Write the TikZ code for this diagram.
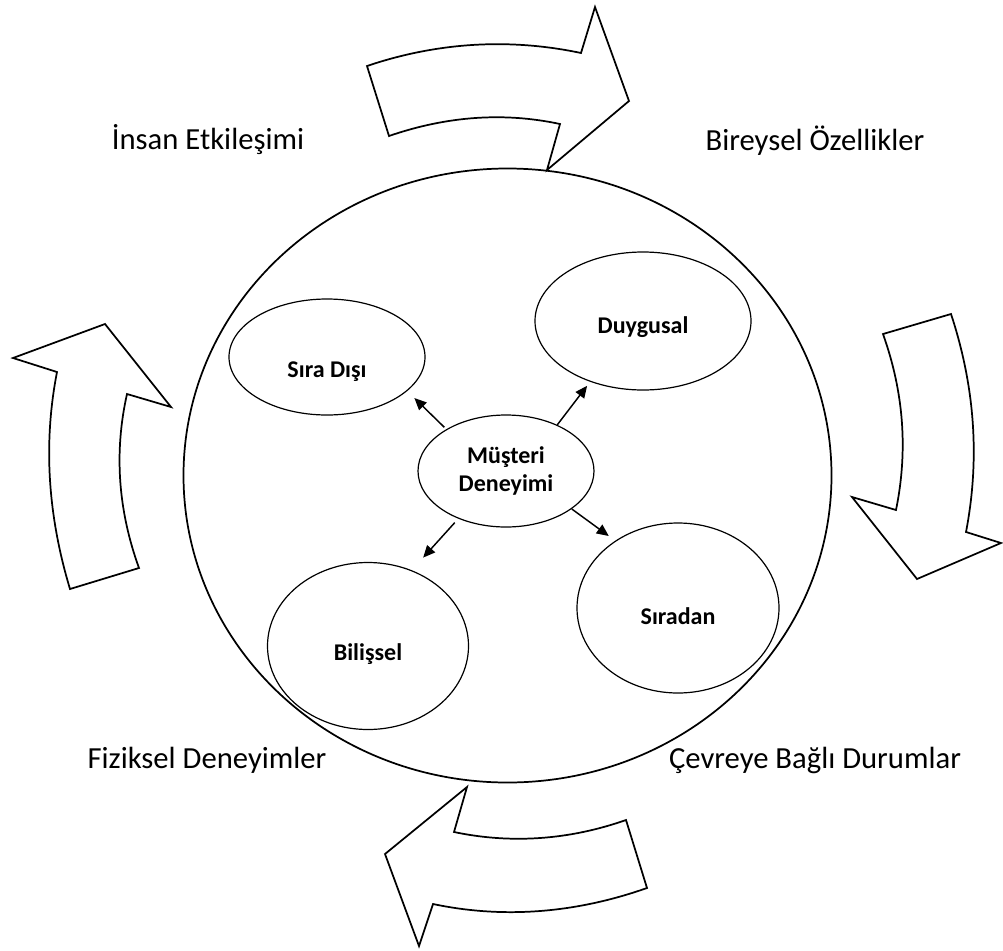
\documentclass[tikz,border=0pt]{standalone}
\usepackage{fontspec}
\setmainfont{Carlito}
\usetikzlibrary{shapes.geometric,arrows.meta}
\begin{document}
\begin{tikzpicture}[x=0.75pt,y=-0.75pt,
  outline/.style={draw=black,line width=1.3pt,line join=miter,fill=white},
  ring/.style={draw=black,line width=1.3pt,ellipse,inner sep=0pt},
  bubble/.style={draw=black,line width=0.9pt,ellipse,inner sep=0pt,
    font=\fontsize{18}{21.6}\selectfont\bfseries,align=center},
  link/.style={line width=1.1pt,-{Triangle[length=9pt,width=8pt]}},
  caption/.style={font=\fontsize{23}{27}\selectfont,inner sep=0pt}]
\useasboundingbox (0,0) rectangle (1003,950);

% outer ring
\node[ring,minimum width=486pt,minimum height=460.5pt] (outer) at (507.5,475.5) {};

% curved block arrows running clockwise round the ring
\draw[outline] (367,66) .. controls (438,42) and (510,38) .. (581,53)
  -- (595,7) -- (629,101) -- (547,170) -- (560,124)
  .. controls (504,112) and (447,116) .. (389,136) -- cycle;
\draw[outline] (883,334) -- (951,314) .. controls (975,387) and (980,459) .. (966,532)
  -- (1001,543) -- (917,579) -- (852,497) -- (896,510)
  .. controls (908,451) and (904,393) .. (883,334) -- cycle;
\draw[outline] (626,820) -- (647,888) .. controls (576,913) and (504,919) .. (433,904)
  -- (419,946) -- (385,854) -- (467,787) -- (454,832)
  .. controls (511,844) and (569,840) .. (626,820) -- cycle;
\draw[outline] (70,589) -- (139,568) .. controls (118,510) and (114,452) .. (127,394)
  -- (171,407) -- (105,324) -- (13,358) -- (57,372)
  .. controls (43,444) and (48,516) .. (70,589) -- cycle;

% inner bubbles (text height/depth set the label a little below the centre)
\node[bubble,minimum width=147pt,minimum height=87pt,text height=31pt,text depth=0pt]
  (sd) at (327,357) {Sıra Dışı};
\node[bubble,minimum width=162pt,minimum height=103.5pt,text height=19pt,text depth=0pt]
  (dy) at (643,321) {Duygusal};
\node[bubble,minimum width=132pt,minimum height=84pt] (md) at (506,471) {Müşteri\\Deneyimi};
\node[bubble,minimum width=151.5pt,minimum height=127.5pt,text height=25pt,text depth=0pt]
  (sr) at (678,608) {Sıradan};
\node[bubble,minimum width=150.75pt,minimum height=125.25pt,text height=22pt,text depth=0pt]
  (bl) at (368,646) {Bilişsel};

% links from the centre
\draw[link,shorten <=2pt,shorten >=7.5pt] (md.145) -- (sd.-23);
\draw[link,shorten >=3.75pt] (md.42) -- (dy.-131);
\draw[link,shorten >=6pt] (md.-30) -- (sr.133);
\draw[link,shorten <=4pt,shorten >=12.75pt] (md.-135) -- (bl.60);

% captions between the arrows
\node[caption] (t1) at (208,140) {İnsan Etkileşimi};
\node[caption] (t2) at (815,141) {Bireysel Özellikler};
\node[caption] (t3) at (207,760) {Fiziksel Deneyimler};
\node[caption] (t4) at (815,760) {Çevreye Bağlı Durumlar};
\end{tikzpicture}
\end{document}
